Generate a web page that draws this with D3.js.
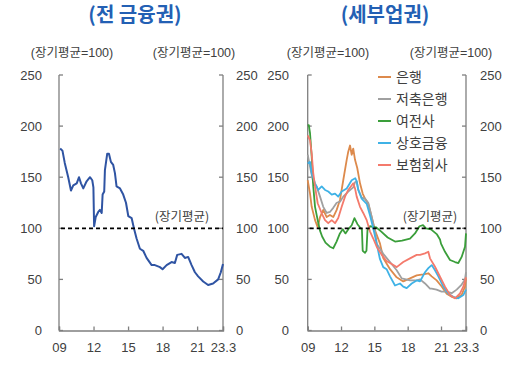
<!DOCTYPE html>
<html><head><meta charset="utf-8">
<script src="https://cdn.jsdelivr.net/npm/d3@7"></script>
<style>
html,body{margin:0;padding:0;background:#fff;}
svg{display:block;font-family:"Liberation Sans","Noto Sans CJK KR",sans-serif;}
</style></head>
<body>
<svg id="c" width="512" height="366"></svg>
<script>
// ---------- data ----------
const panelTitles = ["(전 금융권)", "(세부업권)"];
const unitLabel = "(장기평균=100)";
const refLabel = "(장기평균)";
const refValue = 100;
const yTicks = [0, 50, 100, 150, 200, 250];
const xTickYears = [2009, 2012, 2015, 2018, 2021, 2023.25];
const xTickLabels = ["09", "12", "15", "18", "21", "23.3"];

// 전 금융권
const allYears = [2009.1,2009.3,2009.5,2009.8,2010.04,2010.24,2010.54,2010.74,2010.91,2011.11,2011.4,2011.69,2011.89,2011.99,2012.05,2012.19,2012.41,2012.56,2012.71,2012.79,2012.93,2012.99,2013.19,2013.34,2013.51,2013.71,2013.86,2014.0,2014.3,2014.58,2014.82,2015.02,2015.31,2015.51,2015.74,2016.03,2016.32,2016.61,2017.05,2017.33,2017.77,2018.0,2018.35,2018.78,2019.07,2019.27,2019.65,2019.94,2020.22,2020.52,2020.81,2021.09,2021.53,2021.96,2022.39,2022.83,2023.06,2023.25];
const allValues = [178,176,164,150,137,142,144,150,144,139,146,150,147,140,102,111,116,118,115,133,136,157,173,173,165,162,154,141,139,133,125,112,110,100,90,80,78,71,64,64,62,60,64,67,66,74,75,71,72,64,57,53,48,44.5,46,50,57,65];

// 세부업권
const seriesNames = ["은행", "저축은행", "여전사", "상호금융", "보험회사"];
const bankYears = [2009.0,2009.21,2009.36,2009.66,2009.9,2010.11,2010.4,2010.71,2011.0,2011.3,2011.61,2011.91,2012.2,2012.51,2012.65,2012.81,2012.96,2013.1,2013.26,2013.46,2013.71,2013.95,2014.16,2014.45,2014.76,2015.06,2015.51,2015.8,2016.41,2017.01,2017.6,2018.21,2018.81,2019.4,2019.86,2020.16,2020.61,2021.06,2021.51,2021.96,2022.41,2022.86,2023.16,2023.25];
const bankValues = [147,134,121,108,101,111,118,111,113,111,118,128,147,167,175,181,172,178,167,159,144,134,129,124,111,98,85,71,60,52,48,51,54,55,56,53,49,43,36,33,31.5,35,43,51];

const savingsYears = [2009.0,2009.25,2009.5,2009.8,2010.11,2010.4,2010.71,2011.0,2011.3,2011.61,2011.91,2012.2,2012.65,2013.1,2013.26,2013.41,2013.55,2013.86,2014.16,2014.45,2014.76,2015.06,2015.21,2015.8,2016.41,2017.01,2017.46,2018.21,2018.81,2019.11,2019.56,2020.01,2020.16,2020.6,2021.05,2021.51,2021.96,2022.41,2022.86,2023.16,2023.25];
const savingsValues = [172,158,145,141,131,121,115,116,120,125,126,131,136,140,145,146,138,130,129,125,111,97,85,75,67,59,51,49,49,50,46,41,41,40,38,38,36.5,40,45,50,57];

const cardYears = [2009.0,2009.1,2009.21,2009.36,2009.5,2009.66,2009.9,2010.1,2010.3,2010.6,2011.0,2011.3,2011.6,2011.9,2012.15,2012.4,2012.72,2012.96,2013.21,2013.48,2013.7,2013.88,2013.95,2014.16,2014.29,2014.38,2014.6,2015.15,2015.6,2016.2,2016.86,2017.49,2018.21,2018.66,2019.06,2019.38,2019.65,2020.1,2020.64,2020.91,2021.0,2021.36,2021.81,2022.26,2022.56,2022.86,2023.16,2023.25];
const cardValues = [201,201,193,170,141,121,108,98,92,86,82,80.5,87,95,99,95,100,103,110,104,101,99,78,76,78,98,102,101,97,91,87,88,90,95,102,103,100,99,94,89,85,77,69,67,66,72,82,95];

const mutualYears = [2009.0,2009.21,2009.36,2009.66,2009.95,2010.26,2010.56,2010.85,2011.16,2011.46,2011.75,2012.06,2012.51,2012.96,2013.28,2013.41,2013.55,2013.86,2014.31,2014.6,2014.9,2015.21,2015.5,2015.8,2016.1,2016.41,2016.86,2017.31,2017.6,2017.91,2018.36,2018.81,2019.11,2019.56,2019.86,2020.16,2020.46,2020.76,2021.21,2021.66,2022.11,2022.56,2023.01,2023.25];
const mutualValues = [163.5,165,154,144,137.5,141,137.5,136,133,134,131,136,139,147,149,146,137.5,129,124,113,100,85,70,62,60,53,44,46,43,41.5,46,49,48,57,61,64,59,53,43,36,33,31.5,34.7,40];

const insYears = [2009.0,2009.21,2009.36,2009.5,2009.66,2009.9,2010.26,2010.56,2010.85,2011.16,2011.46,2011.75,2012.06,2012.36,2012.65,2013.1,2013.26,2013.41,2013.71,2014.0,2014.31,2014.6,2014.9,2015.21,2015.66,2016.1,2016.41,2017.01,2017.6,2018.21,2018.81,2019.11,2019.56,2019.86,2020.01,2020.46,2020.91,2021.36,2021.81,2022.26,2022.71,2023.01,2023.25];
const insValues = [191,186,173,154,141,124.5,114.7,108,105,108,105,110,121,131,137.5,144,139,131,121,115,108,97,90,82,74,68,66,62,67,70.6,74,74,75.5,77,70.6,62.4,52.6,42.9,34.7,31.5,36.4,42.9,52];

// ---------- drawing ----------
const svg = d3.select("#c");
const fontNum = "'Liberation Sans','Noto Sans CJK KR',sans-serif";
const fontKr = "'Noto Sans CJK KR',sans-serif";
const axisColor = "#7f7f7f";
const textColor = "#404040";

const y = d3.scaleLinear().domain([0, 250]).range([330.5, 75]);

const panels = [
  {x0: 59, x1: 223, titleX: 135, unitX: [72, 194], leftLabX: 42, rightLabX: 236, refX: 182},
  {x0: 307.7, x1: 466, titleX: 385, unitX: [328, 451], leftLabX: 289, rightLabX: 480, refX: 430}
];

function drawPanel(p, idx) {
  const g = svg.append("g");
  const x = d3.scaleLinear().domain([2009, 2023.25]).range([p.x0, p.x1]);
  p.x = x;
  // title
  g.append("text").attr("x", p.titleX).attr("y", 22).attr("text-anchor", "middle")
    .attr("font-family", fontKr).attr("font-weight", "bold").attr("font-size", 20)
    .attr("fill", "#2360b4").text(panelTitles[idx]);
  // unit labels
  p.unitX.forEach(ux => {
    g.append("text").attr("x", ux).attr("y", 57).attr("text-anchor", "middle")
      .attr("font-family", fontNum).attr("font-size", 12.5).attr("fill", textColor).text(unitLabel);
  });
  // axes
  const leftAxis = d3.axisLeft(y).tickValues(yTicks).tickSize(0).tickPadding(0);
  const gl = g.append("g").attr("transform", `translate(${p.x0},0)`);
  gl.append("line").attr("x1", 0).attr("x2", 0).attr("y1", y(250)).attr("y2", y(0)).attr("stroke", axisColor).attr("stroke-width", 1.3);
  yTicks.forEach(t => {
    gl.append("line").attr("x1", 0).attr("x2", 4).attr("y1", y(t)).attr("y2", y(t)).attr("stroke", axisColor).attr("stroke-width", 1.3);
    g.append("text").attr("x", p.leftLabX).attr("y", y(t)).attr("dy", "0.35em").attr("text-anchor", "end")
      .attr("font-family", fontNum).attr("font-size", 13).attr("fill", textColor).text(t);
  });
  const gr = g.append("g").attr("transform", `translate(${p.x1},0)`);
  gr.append("line").attr("x1", 0).attr("x2", 0).attr("y1", y(250)).attr("y2", y(0)).attr("stroke", axisColor).attr("stroke-width", 1.3);
  yTicks.forEach(t => {
    gr.append("line").attr("x1", 0).attr("x2", -4).attr("y1", y(t)).attr("y2", y(t)).attr("stroke", axisColor).attr("stroke-width", 1.3);
    g.append("text").attr("x", p.rightLabX).attr("y", y(t)).attr("dy", "0.35em").attr("text-anchor", "start")
      .attr("font-family", fontNum).attr("font-size", 13).attr("fill", textColor).text(t);
  });
  // bottom axis
  const bottom = d3.axisBottom(x).tickValues(xTickYears).tickFormat((d, i) => xTickLabels[i]).tickSize(-4).tickPadding(12);
  const gb = g.append("g").attr("transform", `translate(0,${y(0)})`).call(bottom);
  gb.select(".domain").attr("stroke", axisColor).attr("stroke-width", 1.3);
  gb.selectAll(".tick line").attr("stroke", axisColor).attr("stroke-width", 1.3);
  gb.selectAll(".tick text").attr("font-family", fontNum).attr("font-size", 13).attr("fill", textColor);
  return g;
}

panels.forEach((p, i) => drawPanel(p, i));

const line = (x) => d3.line().x(d => x(d[0])).y(d => y(d[1])).curve(d3.curveLinear);

// panel 1 line
const p0 = panels[0];
svg.append("path").datum(d3.zip(allYears, allValues)).attr("d", line(p0.x))
  .attr("fill", "none").attr("stroke", "#2f54a3").attr("stroke-width", 2).attr("stroke-linejoin", "round");

// panel 2 lines
const p1 = panels[1];
const seriesColors = ["#dd8a4c", "#a0a0a0", "#3a9e3a", "#3fb2e6", "#f47a6c"];
const seriesData = [
  d3.zip(bankYears, bankValues),
  d3.zip(savingsYears, savingsValues),
  d3.zip(cardYears, cardValues),
  d3.zip(mutualYears, mutualValues),
  d3.zip(insYears, insValues)
];
seriesData.forEach((d, i) => {
  svg.append("path").datum(d).attr("d", line(p1.x))
    .attr("fill", "none").attr("stroke", seriesColors[i]).attr("stroke-width", 1.8).attr("stroke-linejoin", "round");
});

// reference lines + labels
panels.forEach(p => {
  svg.append("line").attr("x1", p.x0 + 2).attr("x2", p.x1).attr("y1", y(refValue)).attr("y2", y(refValue))
    .attr("stroke", "#000").attr("stroke-width", 1.8).attr("stroke-dasharray", "4,3");
  svg.append("text").attr("x", p.refX).attr("y", y(refValue) - 7).attr("text-anchor", "middle")
    .attr("font-family", fontKr).attr("font-size", 12.5).attr("fill", textColor).text(refLabel);
});

// legend
const lg = svg.append("g");
seriesNames.forEach((n, i) => {
  const ly = 77 + i * 22;
  lg.append("line").attr("x1", 378).attr("x2", 391).attr("y1", ly).attr("y2", ly)
    .attr("stroke", seriesColors[i]).attr("stroke-width", 2);
  lg.append("text").attr("x", 396).attr("y", ly).attr("dy", "0.35em")
    .attr("font-family", fontKr).attr("font-size", 14).attr("fill", textColor).text(n);
});
</script>
</body></html>
